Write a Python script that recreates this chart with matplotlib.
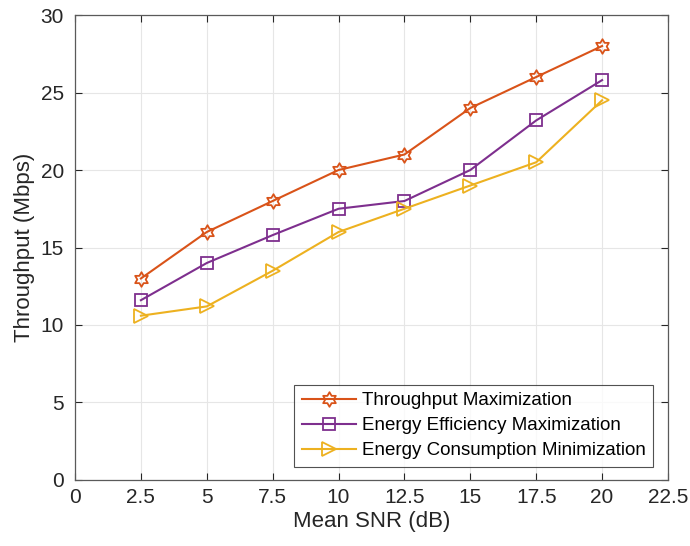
import numpy as np
import matplotlib
matplotlib.use("Agg")
import matplotlib.pyplot as plt
from matplotlib.path import Path

snr = [2.5, 5, 7.5, 10, 12.5, 15, 17.5, 20]
throughput_max = [13, 16, 18, 20, 21, 24, 26, 28]
ee_max = [11.6, 14, 15.8, 17.5, 18, 20, 23.2, 25.8]
ec_min = [10.6, 11.2, 13.5, 16, 17.5, 19, 20.5, 24.5]
labels = ["Throughput Maximization", "Energy Efficiency Maximization",
          "Energy Consumption Minimization"]
xticks = [0, 2.5, 5, 7.5, 10, 12.5, 15, 17.5, 20, 22.5]
xticklabels = ["0", "2.5", "5", "7.5", "10", "12.5", "15", "17.5", "20", "22.5"]
yticks = [0, 5, 10, 15, 20, 25, 30]

plt.rcParams['font.family'] = ['Liberation Sans', 'DejaVu Sans']

# hexagram marker
ang = np.pi / 2 + np.arange(12) * np.pi / 6
rad = np.where(np.arange(12) % 2 == 0, 1.0, 0.577)
verts = np.column_stack([rad * np.cos(ang), rad * np.sin(ang)])
verts = np.vstack([verts, verts[:1]])
codes = [Path.MOVETO] + [Path.LINETO] * 11 + [Path.CLOSEPOLY]
hexagram = Path(verts, codes)

fig = plt.figure(figsize=(6.9, 5.46), dpi=100)
ax = fig.add_axes([0.1087, 0.1209, 0.8594, 0.8516])

c1, c2, c3 = '#D95319', '#7E2F8E', '#EDB120'
ax.plot(snr, throughput_max, color=c1, lw=1.5, marker=hexagram, ms=10.5,
        mfc='none', mec=c1, mew=1.3, label=labels[0])
ax.plot(snr, ee_max, color=c2, lw=1.5, marker='s', ms=8.5,
        mfc='none', mec=c2, mew=1.3, label=labels[1])
ax.plot(snr, ec_min, color=c3, lw=1.5, marker='>', ms=10,
        mfc='none', mec=c3, mew=1.3, label=labels[2])

ax.set_xlim(0, 22.5)
ax.set_ylim(0, 30)
ax.set_xticks(xticks)
ax.set_xticklabels(xticklabels)
ax.set_yticks(yticks)
ax.tick_params(direction='in', top=True, right=True, labelsize=15,
               colors='#262626', length=5, pad=6)
ax.tick_params(axis='y', pad=8)
for s in ax.spines.values():
    s.set_color('#5a5a5a')
    s.set_linewidth(0.9)
ax.grid(True, color='#e6e6e6', lw=0.8)
ax.set_axisbelow(True)
ax.set_xlabel('Mean SNR (dB)', fontsize=16, color='#262626', labelpad=3)
ax.set_ylabel('Throughput (Mbps)', fontsize=16, color='#262626', labelpad=4)

leg = ax.legend(loc='lower right', bbox_to_anchor=(0.9747, 0.028), fontsize=13.5,
                frameon=True, fancybox=False, edgecolor='#262626',
                handlelength=2.9, borderpad=0.4, labelspacing=0.42,
                handletextpad=0.3, borderaxespad=0)
leg.get_frame().set_linewidth(0.8)

fig.savefig('out.png', dpi=100)
